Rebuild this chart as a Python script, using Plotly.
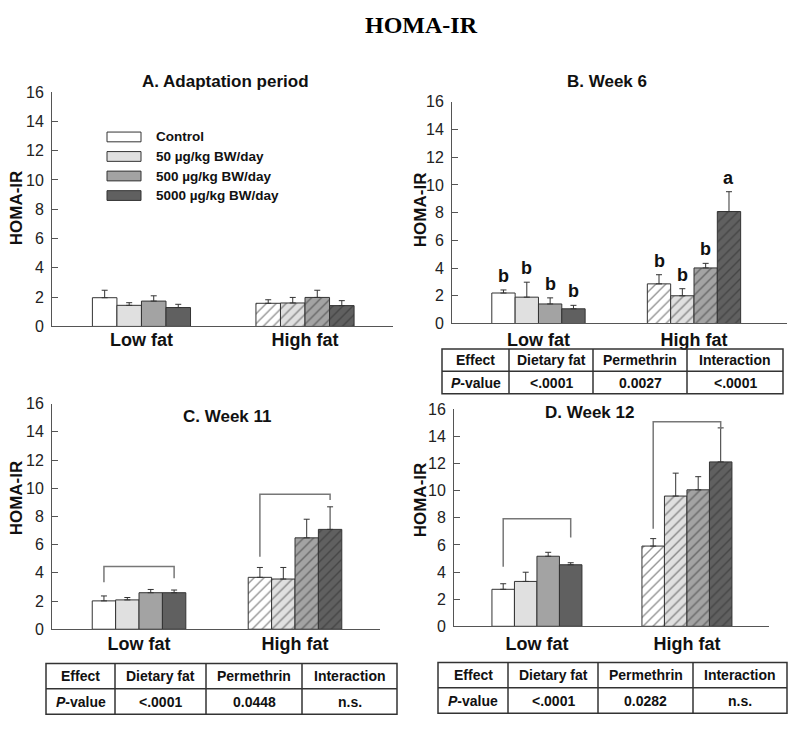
import plotly.graph_objects as go

W, H = 795, 732
FONT = "Liberation Sans, Arial, sans-serif"

# ---------------- data ----------------
groups = ["Low fat", "High fat"]
series = ["Control", "50 µg/kg BW/day", "500 µg/kg BW/day", "5000 µg/kg BW/day"]
colors = ["#ffffff", "#e0e0e0", "#a3a3a3", "#606060"]

# mean and (mean + SE) per series, [Low fat, High fat]
A_mean = [[1.96, 1.58], [1.44, 1.60], [1.73, 1.98], [1.29, 1.42]]
A_top = [[2.47, 1.82], [1.62, 1.98], [2.09, 2.47], [1.51, 1.76]]

B_mean = [[2.20, 2.86], [1.90, 2.00], [1.41, 4.01], [1.06, 8.08]]
B_top = [[2.42, 3.52], [2.98, 2.51], [1.85, 4.34], [1.31, 9.51]]
B_letters = [["b", "b"], ["b", "b"], ["b", "b"], ["b", "a"]]

C_mean = [[2.01, 3.68], [2.08, 3.56], [2.59, 6.48], [2.59, 7.08]]
C_top = [[2.36, 4.38], [2.25, 4.38], [2.82, 7.80], [2.78, 8.68]]
# brackets per group: [top, left end, right end]
C_brackets = [[4.44, 3.33, 3.61], [9.58, 5.14, 9.17]]

D_mean = [[2.73, 5.92], [3.31, 9.61], [5.17, 10.07], [4.54, 12.13]]
D_top = [[3.14, 6.47], [3.99, 11.30], [5.46, 11.04], [4.69, 14.64]]
D_brackets = [[7.93, 4.40, 6.56], [15.10, 7.20, 14.56]]

table_header = ["Effect", "Dietary fat", "Permethrin", "Interaction"]
B_p = ["<.0001", "0.0027", "<.0001"]
C_p = ["<.0001", "0.0448", "n.s."]
D_p = ["<.0001", "0.0282", "n.s."]

y_ticks = [0, 2, 4, 6, 8, 10, 12, 14, 16]

# ---------------- layout helpers ----------------
def X(px):
    return px / W


def Y(py):
    return 1 - py / H


panels = [
    dict(key="", mean=A_mean, top=A_top, xd=(52, 393), yd=(326, 86), xr=(-0.547, 1.538),
         title="A. Adaptation period", tpos=(225, 75), ytpos=(16, 205), xstand=-3,
         letters=None, brackets=None, table=None, p=None),
    dict(key="2", mean=B_mean, top=B_top, xd=(452, 787), yd=(323, 96), xr=(-0.556, 1.598),
         title="B. Week 6", tpos=(607, 75), ytpos=(420, 207), xstand=0,
         letters=B_letters, brackets=None,
         table=dict(x=(442, 783), y=(349, 372, 395), cols=(509, 593, 687)), p=B_p),
    dict(key="3", mean=C_mean, top=C_top, xd=(52, 380), yd=(636, 405), xr=(-0.558, 1.545),
         title="C. Week 11", tpos=(227, 418), ytpos=(16, 502), xstand=-2,
         letters=None, brackets=C_brackets,
         table=dict(x=(46, 397), y=(671, 697, 723), cols=(115, 206, 302)), p=C_p),
    dict(key="4", mean=D_mean, top=D_top, xd=(454, 769), yd=(633, 411), xr=(-0.553, 1.547),
         title="D. Week 12", tpos=(589, 414), ytpos=(420, 504), xstand=1,
         letters=None, brackets=D_brackets,
         table=dict(x=(438, 787), y=(670, 696, 722), cols=(508, 598, 693)), p=D_p),
]

offsets = [-0.225, -0.075, 0.075, 0.225]
bar_w = 0.15
gx = list(range(len(groups)))

fig = go.Figure()
annotations = []
shapes = []
layout_axes = {}


def paper_text(px, py, text, size, angle=0, xanchor="center", family=FONT, color="#111111"):
    return dict(x=X(px), y=Y(py), xref="paper", yref="paper", text=text,
                showarrow=False, xanchor=xanchor, yanchor="middle", textangle=angle,
                font=dict(family=family, size=size, color=color))


for pnl in panels:
    k = pnl["key"]
    xa, ya = "x" + k, "y" + k
    for i in range(len(series)):
        fig.add_trace(go.Bar(
            x=[g + offsets[i] for g in gx],
            y=pnl["mean"][i],
            width=bar_w,
            xaxis=xa, yaxis=ya,
            name=series[i],
            showlegend=False,
            marker=dict(
                color=colors[i],
                line=dict(color="#333333", width=1),
                pattern=dict(shape=["", "/"], fgcolor="#2a2a2a", size=7,
                             solidity=0.2, fillmode="overlay"),
            ),
            error_y=dict(type="data", symmetric=False,
                         array=[t - m for t, m in zip(pnl["top"][i], pnl["mean"][i])],
                         arrayminus=[0] * len(groups),
                         color="#333333", thickness=1, width=3),
        ))
        if pnl["letters"]:
            for g in gx:
                annotations.append(dict(
                    x=g + offsets[i], y=pnl["top"][i][g], xref=xa, yref=ya,
                    text="<b>%s</b>" % pnl["letters"][i][g], showarrow=False,
                    xanchor="center", yanchor="bottom", yshift=2,
                    font=dict(family=FONT, size=18, color="#111111")))
    if pnl["brackets"]:
        for g, (top, lb, rb) in zip(gx, pnl["brackets"]):
            xl, xr_ = g + offsets[0], g + offsets[-1]
            shapes.append(dict(
                type="path", xref=xa, yref=ya,
                path="M %f,%f L %f,%f L %f,%f L %f,%f" % (xl, lb, xl, top, xr_, top, xr_, rb),
                line=dict(color="#777777", width=1.5)))

    xn = "xaxis" + k
    yn = "yaxis" + k
    layout_axes[xn] = dict(
        domain=[X(pnl["xd"][0]), X(pnl["xd"][1])], range=list(pnl["xr"]),
        anchor=ya, showline=True, linecolor="#555555", linewidth=1,
        ticks="", tickvals=gx, ticktext=["<b>%s</b>" % g for g in groups],
        tickfont=dict(family=FONT, size=18, color="#111111"),
        ticklabelstandoff=pnl["xstand"],
        showgrid=False, zeroline=False, fixedrange=True)
    layout_axes[yn] = dict(
        domain=[Y(pnl["yd"][0]), Y(pnl["yd"][1])], range=[0, 16],
        anchor=xa, showline=True, linecolor="#555555", linewidth=1,
        ticks="inside", ticklen=6, tickcolor="#555555", tickvals=y_ticks,
        tickfont=dict(family=FONT, size=16, color="#222222"),
        ticklabelstandoff=4,
        showgrid=False, zeroline=False, fixedrange=True)

    annotations.append(paper_text(pnl["tpos"][0], pnl["tpos"][1],
                                  "<b>%s</b>" % pnl["title"], 17))
    annotations.append(paper_text(pnl["ytpos"][0], pnl["ytpos"][1],
                                  "<b>HOMA-IR</b>", 17, angle=-90))

    tb = pnl["table"]
    if tb:
        x0, x1 = tb["x"]
        yt, ym, yb = tb["y"]
        lw = dict(color="#333333", width=1.5)
        shapes.append(dict(type="rect", xref="paper", yref="paper",
                           x0=X(x0), x1=X(x1), y0=Y(yb), y1=Y(yt), line=lw))
        shapes.append(dict(type="line", xref="paper", yref="paper",
                           x0=X(x0), x1=X(x1), y0=Y(ym), y1=Y(ym), line=lw))
        for c in tb["cols"]:
            shapes.append(dict(type="line", xref="paper", yref="paper",
                               x0=X(c), x1=X(c), y0=Y(yb), y1=Y(yt), line=lw))
        edges = [x0] + list(tb["cols"]) + [x1]
        row2 = ["<i>P</i>-value"] + pnl["p"]
        for j in range(4):
            cx = (edges[j] + edges[j + 1]) / 2
            annotations.append(paper_text(cx, (yt + ym) / 2, "<b>%s</b>" % table_header[j], 14))
            annotations.append(paper_text(cx, (ym + yb) / 2, "<b>%s</b>" % row2[j], 14))

# legend (panel A)
leg_rows = [132, 152, 172, 192]
for i, name in enumerate(series):
    cy = leg_rows[i]
    shapes.append(dict(type="rect", xref="paper", yref="paper",
                       x0=X(107), x1=X(141), y0=Y(cy + 5), y1=Y(cy - 5),
                       fillcolor=colors[i], line=dict(color="#333333", width=1)))
    annotations.append(paper_text(154, cy, "<b>%s</b>" % name, 13.5, xanchor="left"))

# main title
annotations.append(paper_text(421, 17, "<b>HOMA-IR</b>", 24,
                              family="Liberation Serif, Times New Roman, serif",
                              color="#000000"))

fig.update_layout(
    width=W, height=H,
    margin=dict(l=0, r=0, t=0, b=0),
    paper_bgcolor="white", plot_bgcolor="white",
    barmode="overlay",
    showlegend=False,
    annotations=annotations,
    shapes=shapes,
    **layout_axes,
)

fig.write_html(
    "out.html",
    config={"displayModeBar": False},
    post_script="document.body.style.margin='0';document.body.style.overflow='hidden';",
)
